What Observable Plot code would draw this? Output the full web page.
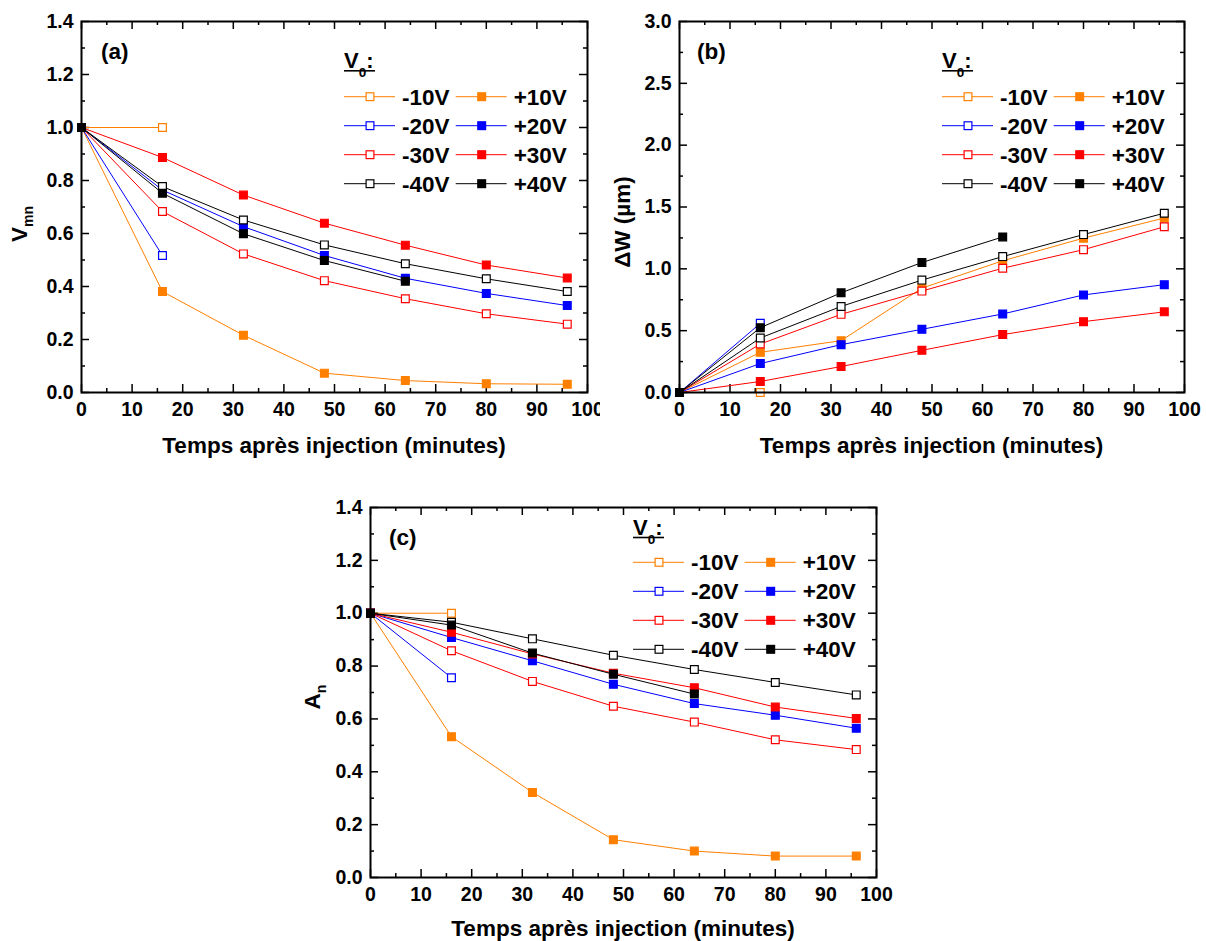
<!DOCTYPE html>
<html><head><meta charset="utf-8">
<script src="https://cdn.jsdelivr.net/npm/d3@7"></script>
<script src="https://cdn.jsdelivr.net/npm/@observablehq/plot@0.6"></script>
<style>
body{margin:0;background:#fff;}
#wrap{position:relative;width:1206px;height:941px;overflow:hidden;background:#fff;}
.panel{position:absolute;}
</style></head><body><div id="wrap"></div>
<script>
// ---- data ----
const times = [0, 16, 32, 48, 64, 80, 96];
const seriesNames = ["-10V", "+10V", "-20V", "+20V", "-30V", "+30V", "-40V", "+40V"];
const seriesColors = ["#FF8000", "#FF8000", "#0000FF", "#0000FF", "#FF0000", "#FF0000", "#000000", "#000000"];
const seriesOpen = [true, false, true, false, true, false, true, false];

const xMajor = [0, 10, 20, 30, 40, 50, 60, 70, 80, 90, 100];
const xMinor = [5, 15, 25, 35, 45, 55, 65, 75, 85, 95];
const yMajorA = [0, 0.2, 0.4, 0.6, 0.8, 1.0, 1.2, 1.4];
const yMinorA = [0.1, 0.3, 0.5, 0.7, 0.9, 1.1, 1.3];
const yMajorB = [0, 0.5, 1.0, 1.5, 2.0, 2.5, 3.0];
const yMinorB = [0.25, 0.75, 1.25, 1.75, 2.25, 2.75];

// (a) Vmn
const a_m10 = [1.000, 1.000];
const a_p10 = [1.000, 0.381, 0.216, 0.073, 0.045, 0.033, 0.031];
const a_m20 = [1.000, 0.517];
const a_p20 = [1.000, 0.764, 0.626, 0.517, 0.431, 0.374, 0.328];
const a_m30 = [1.000, 0.683, 0.523, 0.422, 0.354, 0.297, 0.258];
const a_p30 = [1.000, 0.887, 0.745, 0.639, 0.556, 0.481, 0.432];
const a_m40 = [1.000, 0.777, 0.651, 0.557, 0.486, 0.429, 0.381];
const a_p40 = [1.000, 0.752, 0.599, 0.498, 0.420];

// (b) ΔW (µm)
const b_m10 = [0.000, 0.000];
const b_p10 = [0.000, 0.325, 0.419, 0.844, 1.065, 1.248, 1.411];
const b_m20 = [0.000, 0.559];
const b_p20 = [0.000, 0.234, 0.387, 0.511, 0.635, 0.789, 0.872];
const b_m30 = [0.000, 0.392, 0.632, 0.820, 1.005, 1.155, 1.340];
const b_p30 = [0.000, 0.089, 0.210, 0.341, 0.468, 0.573, 0.652];
const b_m40 = [0.000, 0.441, 0.696, 0.909, 1.099, 1.277, 1.450];
const b_p40 = [0.000, 0.524, 0.806, 1.051, 1.258];

// (c) An
const c_m10 = [1.000, 1.000];
const c_p10 = [1.000, 0.533, 0.322, 0.143, 0.100, 0.081, 0.081];
const c_m20 = [1.000, 0.756];
const c_p20 = [1.000, 0.908, 0.820, 0.731, 0.658, 0.614, 0.565];
const c_m30 = [1.000, 0.858, 0.742, 0.648, 0.588, 0.521, 0.484];
const c_p30 = [1.000, 0.928, 0.846, 0.773, 0.718, 0.645, 0.602];
const c_m40 = [1.000, 0.966, 0.903, 0.841, 0.787, 0.738, 0.691];
const c_p40 = [1.000, 0.955, 0.849, 0.769, 0.694];

const panelA = [a_m10, a_p10, a_m20, a_p20, a_m30, a_p30, a_m40, a_p40];
const panelB = [b_m10, b_p10, b_m20, b_p20, b_m30, b_p30, b_m40, b_p40];
const panelC = [c_m10, c_p10, c_m20, c_p20, c_m30, c_p30, c_m40, c_p40];

// ---- drawing ----
const FONT = "'Liberation Sans', Arial, Helvetica, sans-serif";
const wrap = document.getElementById("wrap");

function makePanel(cfg) {
  const {left, top, width, height, mL, mT, mR, mB, yMax, yMajor, yMinor, vals,
         letter, titleY, yTitle, yTitleX, yTitleY, legRow0, v0Base, letterDx} = cfg;
  const plotW = width - mL - mR, plotH = height - mT - mB;
  const marks = [
    Plot.tickX(xMinor, {x: d => d, insetTop: plotH - 4, stroke: "black", strokeWidth: 1.5}),
    Plot.tickX(xMinor, {x: d => d, insetBottom: plotH - 4, stroke: "black", strokeWidth: 1.5}),
    Plot.tickX(xMajor, {x: d => d, insetTop: plotH - 8, stroke: "black", strokeWidth: 1.5}),
    Plot.tickX(xMajor, {x: d => d, insetBottom: plotH - 8, stroke: "black", strokeWidth: 1.5}),
    Plot.tickY(yMinor, {y: d => d, insetRight: plotW - 4, stroke: "black", strokeWidth: 1.5}),
    Plot.tickY(yMinor, {y: d => d, insetLeft: plotW - 4, stroke: "black", strokeWidth: 1.5}),
    Plot.tickY(yMajor, {y: d => d, insetRight: plotW - 8, stroke: "black", strokeWidth: 1.5}),
    Plot.tickY(yMajor, {y: d => d, insetLeft: plotW - 8, stroke: "black", strokeWidth: 1.5}),
    Plot.axisX(xMajor, {tickSize: 0, tickPadding: 10, fontSize: 19.5, fontWeight: "bold", label: null}),
    Plot.axisY(yMajor, {tickSize: 0, tickPadding: 8, fontSize: 19.5, fontWeight: "bold", label: null,
                        tickFormat: d => d.toFixed(1)})
  ];
  seriesNames.forEach((name, i) => {
    const rows = vals[i].map((v, j) => ({t: times[j], v}));
    marks.push(Plot.line(rows, {x: "t", y: "v", stroke: seriesColors[i], strokeWidth: 1}));
    marks.push(Plot.dot(rows, {x: "t", y: "v", symbol: "square", r: 4.4,
      fill: seriesOpen[i] ? "white" : seriesColors[i], stroke: seriesColors[i], strokeWidth: 1.2}));
  });
  marks.push(Plot.frame({stroke: "black", strokeWidth: 2}));

  const svg = Plot.plot({
    width, height, marginLeft: mL, marginTop: mT, marginRight: mR, marginBottom: mB,
    style: {fontFamily: FONT, fontWeight: "bold", background: "white", overflow: "visible", color: "black"},
    x: {domain: [0, 100], label: null},
    y: {domain: [0, yMax], label: null},
    marks
  });
  svg.setAttribute("class", "panel");
  svg.style.left = left + "px";
  svg.style.top = top + "px";
  wrap.appendChild(svg);

  const s = d3.select(svg);
  // x title
  s.append("text").attr("x", mL + plotW / 2).attr("y", titleY)
    .attr("text-anchor", "middle").attr("font-size", 22.5).attr("font-weight", "bold")
    .attr("font-family", FONT).attr("fill", "black")
    .text("Temps après injection (minutes)");
  // y title
  const yt = s.append("text").attr("transform", `translate(${yTitleX},${yTitleY}) rotate(-90)`)
    .attr("text-anchor", "middle").attr("font-weight", "bold").attr("font-family", FONT).attr("fill", "black");
  yt.append("tspan").attr("font-size", 22.5).text(yTitle[0]);
  if (yTitle[1]) {
    yt.append("tspan").attr("font-size", 14).attr("dy", 6).text(yTitle[1]);
  }
  // panel letter
  s.append("text").attr("x", mL + letterDx).attr("y", mT + 38).attr("font-size", 22.5)
    .attr("text-anchor", "start")
    .attr("font-weight", "bold").attr("font-family", FONT).attr("fill", "black").text(letter);
  // legend
  const fx = mL + 263;
  const v0 = s.append("text").attr("x", fx).attr("y", mT + v0Base).attr("font-weight", "bold")
    .attr("text-anchor", "start")
    .attr("font-family", FONT).attr("fill", "black");
  v0.append("tspan").attr("font-size", 22).text("V");
  v0.append("tspan").attr("font-size", 13.5).attr("dy", 8.5).text("0");
  v0.append("tspan").attr("font-size", 22).attr("dy", -8.5).text(":");
  s.append("line").attr("x1", fx).attr("x2", fx + 31).attr("y1", mT + v0Base + 2.5).attr("y2", mT + v0Base + 2.5)
    .attr("stroke", "black").attr("stroke-width", 1.6);
  for (let r = 0; r < 4; r++) {
    const ry = mT + legRow0 + r * 29;
    [[2 * r, 0], [2 * r + 1, 111.7]].forEach(([i, off]) => {
      const x0 = fx + off;
      s.append("line").attr("x1", x0).attr("x2", x0 + 51).attr("y1", ry).attr("y2", ry)
        .attr("stroke", seriesColors[i]).attr("stroke-width", 1);
      s.append("rect").attr("x", x0 + 26 - 3.9).attr("y", ry - 3.9).attr("width", 7.8).attr("height", 7.8)
        .attr("fill", seriesOpen[i] ? "white" : seriesColors[i]).attr("stroke", seriesColors[i]).attr("stroke-width", 1.2);
      s.append("text").attr("x", x0 + 58).attr("y", ry + 8).attr("font-size", 22.5).attr("font-weight", "bold")
        .attr("text-anchor", "start")
        .attr("font-family", FONT).attr("fill", "black").text(seriesNames[i]);
    });
  }
}

makePanel({left: 0, top: 0, width: 600, height: 470, mL: 81, mT: 21, mR: 13, mB: 78,
  yMax: 1.4, yMajor: yMajorA, yMinor: yMinorA, vals: panelA, letter: "(a)", letterDx: 20,
  titleY: 453, yTitle: ["V", "mn"], yTitleX: 27, yTitleY: 224, legRow0: 75.7, v0Base: 47.3});
makePanel({left: 600, top: 0, width: 606, height: 470, mL: 79, mT: 21, mR: 22, mB: 78,
  yMax: 3.0, yMajor: yMajorB, yMinor: yMinorB, vals: panelB, letter: "(b)", letterDx: 18,
  titleY: 453, yTitle: ["ΔW (µm)"], yTitleX: 30, yTitleY: 222, legRow0: 75.7, v0Base: 47.3});
makePanel({left: 290, top: 480, width: 620, height: 461, mL: 80, mT: 27, mR: 34, mB: 64,
  yMax: 1.4, yMajor: yMajorA, yMinor: yMinorA, vals: panelC, letter: "(c)", letterDx: 19,
  titleY: 456, yTitle: ["A", "n"], yTitleX: 30, yTitleY: 217, legRow0: 55.3, v0Base: 28});
</script>
</body></html>
